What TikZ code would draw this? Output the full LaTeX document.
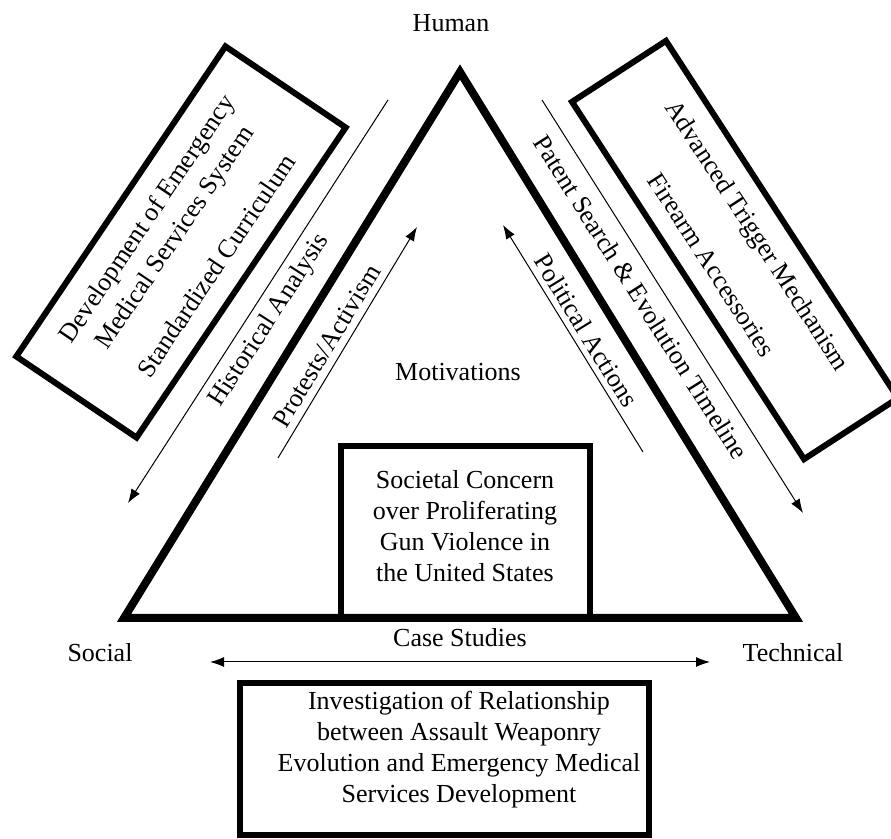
\documentclass[tikz,border=0pt]{standalone}
\usepackage{fontspec}
\setmainfont{Liberation Serif}
\usetikzlibrary{arrows.meta, positioning, calc}

\begin{document}
\begin{tikzpicture}[x=0.5pt, y=-0.5pt, >={Latex[length=7pt,width=5pt]}, font=\fontsize{13}{15.5}\selectfont]
    \tikzstyle{frame} = [draw, line width=3pt, align=center, inner sep=0pt]
    \tikzstyle{flow} = [line width=0.5pt]
    \tikzstyle{tag} = [sloped, inner sep=3pt]

    \useasboundingbox (0,0) rectangle (891,839);

    % Triangle corners
    \coordinate (human) at (460,72);
    \coordinate (social) at (124,618);
    \coordinate (technical) at (796,618);
    \draw[line width=4pt] (human) -- (technical) -- (social) -- cycle;

    \node (humanlbl) at (451,23) {Human};
    \node (sociallbl) at (100,653) {Social};
    \node (technicallbl) at (793,653) {Technical};
    \node (motiv) at (458,372) {Motivations};

    % Boxes
    \node[frame, minimum width=124.5pt, minimum height=86pt] (concern) at (465.5,532) {};
    \node[align=center] (concerntext) at (465,526)
        {Societal Concern\\over Proliferating\\Gun Violence in\\the United States};
    \node[frame, rotate=56, minimum width=187pt, minimum height=72.5pt] (ems) at (181,242)
        {Development of Emergency\\[1pt]Medical Services System\\[10pt]Standardized Curriculum};
    \node[frame, rotate=-57, minimum width=213pt, minimum height=56pt] (firearm) at (735,250)
        {Advanced Trigger Mechanism\\[12pt]Firearm Accessories};
    \node[frame, minimum width=204.5pt, minimum height=76pt] (study) at (444.5,759) {};
    \node[align=center] (studytext) at (459,750)
        {Investigation of Relationship\\between Assault Weaponry\\Evolution and Emergency Medical\\Services Development};

    % Arrow ends
    \coordinate (histA) at (388,100);
    \coordinate (histB) at (128,503);
    \coordinate (protA) at (278,458);
    \coordinate (protB) at (417,227);
    \coordinate (poliA) at (643,452);
    \coordinate (poliB) at (503,225);
    \coordinate (patA) at (542,100);
    \coordinate (patB) at (803,513);
    \coordinate (caseA) at (210,662);
    \coordinate (caseB) at (710,662);

    % Connections
    \draw[flow, ->] (histA) -- (histB) node[tag, pos=0.52, below=1pt] (histlbl) {Historical Analysis};
    \draw[flow, ->] (protA) -- (protB) node[tag, pos=0.45, above=0.5pt] (protlbl) {Protests/Activism};
    \draw[flow, ->] (poliA) -- (poliB) node[tag, pos=0.5, above=0pt] (polilbl) {Political Actions};
    \draw[flow, ->] (patA) -- (patB) node[tag, pos=0.45, below=3pt] (patlbl) {Patent Search \& Evolution Timeline};
    \draw[flow, <->] (caseA) -- (caseB) node[tag, midway, above=4.5pt] (caselbl) {Case Studies};
\end{tikzpicture}
\end{document}
